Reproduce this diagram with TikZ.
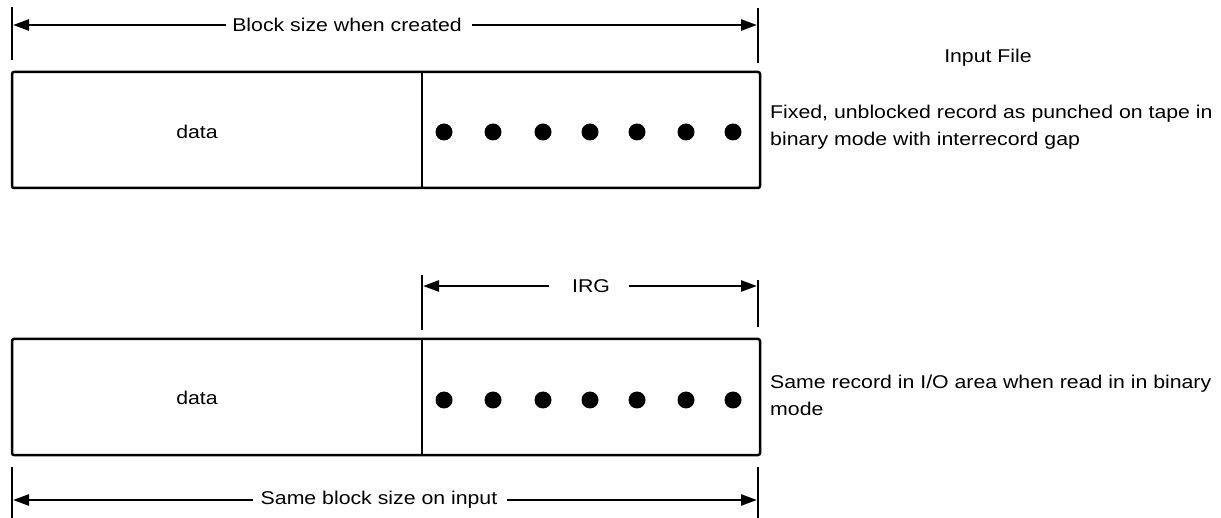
\documentclass[tikz,border=0pt]{standalone}
\usepackage{fontspec}
\setmainfont[FakeStretch=1.15]{Liberation Sans}
\usetikzlibrary{arrows.meta}
\begin{document}
\begin{tikzpicture}[x=1pt,y=-1pt,
  lbl/.style={font=\fontsize{18.5}{27}\selectfont, inner sep=0pt},
  recbox/.style={draw, line width=2.5pt, rounded corners=2pt},
  tickline/.style={line width=2.4pt},
  dimline/.style={line width=2.6pt, -{Triangle[length=16pt,width=11pt]}},
  blackdot/.style={circle, fill, minimum size=17pt, inner sep=0pt}]
\useasboundingbox (0,0) rectangle (1221,518);

% ---- top dimension
\draw[tickline] (12,7) -- (12,60);
\draw[tickline] (758,8) -- (758,63);
\coordinate (tL) at (13,25);
\coordinate (tR) at (757,25);
\node[lbl] (ttop) at (347,25) {Block size when created};
\draw[dimline] ([xshift=-6pt]ttop.west) -- (tL);
\draw[dimline] ([xshift=10pt]ttop.east) -- (tR);

\node[lbl] (infile) at (988,58) {Input File};

% ---- first record
\node[recbox, minimum width=748pt, minimum height=116pt, inner sep=0pt] (box1) at (386,130) {};
\draw[line width=2.5pt] (422,72) -- (422,188);
\node[lbl] (data1) at (197,132) {data};
\foreach \x [count=\i] in {444,493,543,590,637,686,733}
  \node[blackdot] (da\i) at (\x,132) {};
\node[lbl, anchor=north west, align=left] (desc1) at (770,105) {Fixed, unblocked record as punched on tape in\\binary mode with interrecord gap};

% ---- IRG dimension
\draw[tickline] (422,275) -- (422,330);
\draw[tickline] (758,280) -- (758,327);
\coordinate (iL) at (423,286);
\coordinate (iR) at (757,286);
\node[lbl] (irg) at (591,286) {IRG};
\draw[dimline] ([xshift=-23pt]irg.west) -- (iL);
\draw[dimline] ([xshift=19pt]irg.east) -- (iR);

% ---- second record
\node[recbox, minimum width=748pt, minimum height=116pt, inner sep=0pt] (box2) at (386,397) {};
\draw[line width=2.5pt] (422,339) -- (422,455);
\node[lbl] (data2) at (197,398) {data};
\foreach \x [count=\i] in {444,493,543,590,637,686,733}
  \node[blackdot] (db\i) at (\x,400) {};
\node[lbl, anchor=north west, align=left] (desc2) at (770,375) {Same record in I/O area when read in in binary\\mode};

% ---- bottom dimension
\draw[tickline] (12,467) -- (12,518);
\draw[tickline] (758,467) -- (758,518);
\coordinate (bL) at (13,500);
\coordinate (bR) at (757,500);
\node[lbl] (tbot) at (379,500) {Same block size on input};
\draw[dimline] ([xshift=-8pt]tbot.west) -- (bL);
\draw[dimline] ([xshift=10pt]tbot.east) -- (bR);
\end{tikzpicture}
\end{document}
